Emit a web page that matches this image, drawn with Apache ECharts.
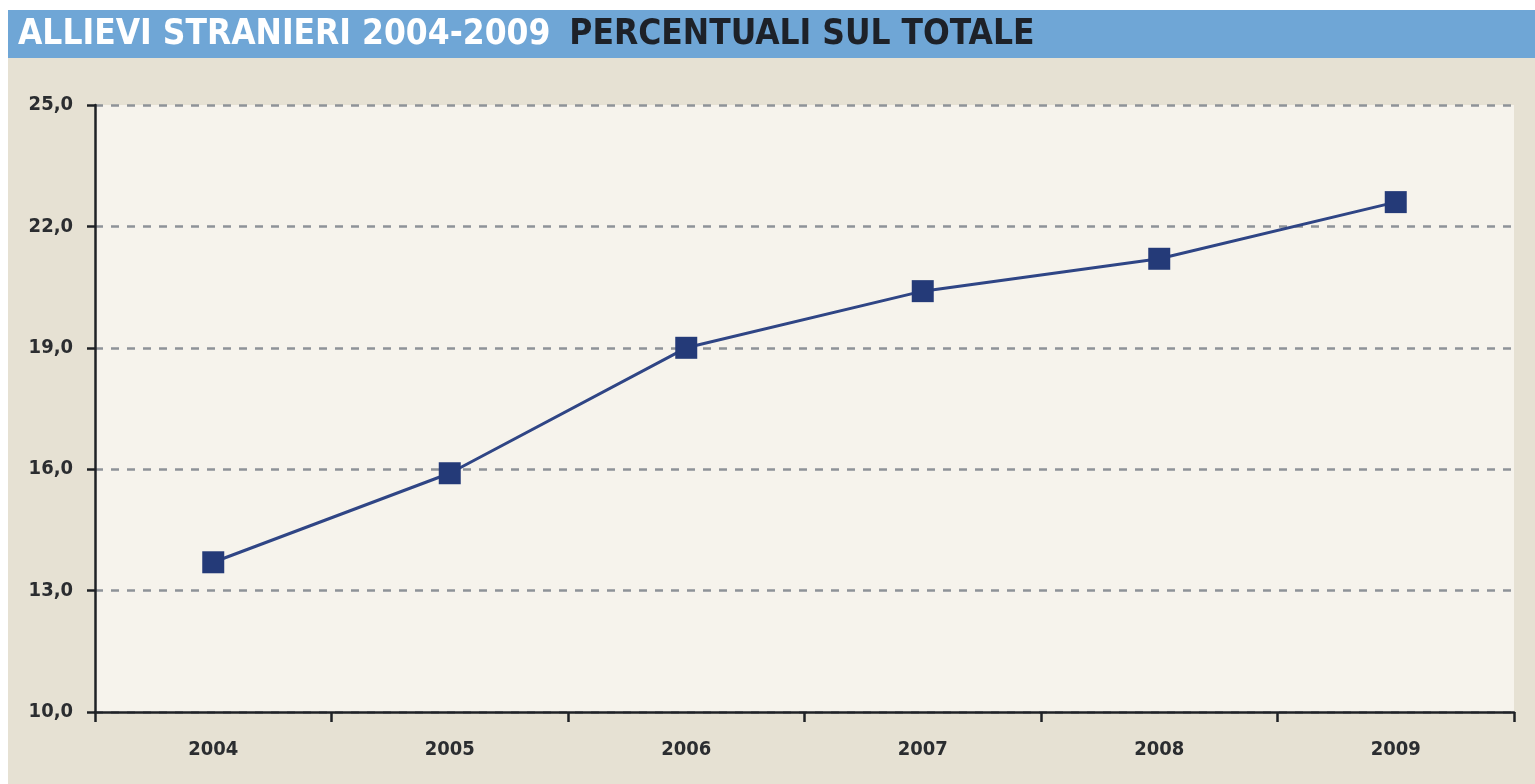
<!DOCTYPE html>
<html>
<head>
<meta charset="utf-8">
<script src="https://cdn.jsdelivr.net/npm/echarts@6/dist/echarts.min.js"></script>
<style>
  html, body { margin: 0; padding: 0; background: #fff; }
  #chart { width: 1535px; height: 784px; }
</style>
</head>
<body>
<div id="chart"></div>
<script>
// Allievi stranieri, % sul totale
const years = ['2004', '2005', '2006', '2007', '2008', '2009'];
const shares = [13.7, 15.9, 19.0, 20.4, 21.2, 22.6];

const FONT = '"DejaVu Sans Condensed", "DejaVu Sans", sans-serif';
const chart = echarts.init(document.getElementById('chart'));

chart.setOption({
  animation: false,
  backgroundColor: '#fff',
  graphic: [
    // beige page background
    { type: 'rect', z: -10, shape: { x: 8, y: 58, width: 1527, height: 726 }, style: { fill: '#e6e1d3' } },
    // blue title bar
    { type: 'rect', z: -10, shape: { x: 8, y: 10, width: 1527, height: 48 }, style: { fill: '#6fa6d6' } },
  ],
  title: {
    left: 13,
    top: 12,
    text: '{a|ALLIEVI STRANIERI 2004-2009}{b|PERCENTUALI SUL TOTALE}',
    textStyle: {
      rich: {
        a: { fontFamily: FONT, fontWeight: 'bold', fontSize: 35, color: '#ffffff' },
        b: { fontFamily: FONT, fontWeight: 'bold', fontSize: 35, color: '#1d2128', padding: [0, 0, 0, 19] },
      },
    },
  },
  grid: {
    left: 95, right: 21, top: 105, bottom: 72,
    show: true, backgroundColor: '#f6f3ec', borderWidth: 0,
  },
  xAxis: {
    type: 'category',
    data: years,
    boundaryGap: true,
    axisLine: { lineStyle: { color: '#1f2226', width: 2.5 } },
    axisTick: { show: true, length: 10, lineStyle: { color: '#1f2226', width: 2.5 } },
    axisLabel: { margin: 28, fontFamily: FONT, fontWeight: 'bold', fontSize: 20, color: '#2b2d30' },
  },
  yAxis: {
    type: 'value',
    min: 10, max: 25, interval: 3,
    axisLine: { show: true, lineStyle: { color: '#1f2226', width: 2.5 } },
    axisTick: { show: true, length: 8, lineStyle: { color: '#1f2226', width: 2.5 } },
    axisLabel: {
      margin: 22, fontFamily: FONT, fontWeight: 'bold', fontSize: 20, color: '#2b2d30',
      formatter: v => v.toFixed(1).replace('.', ','),
    },
    splitLine: { lineStyle: { color: '#8e9398', width: 2.5, type: [8, 8] } },
  },
  series: [{
    type: 'line',
    data: shares,
    symbol: 'rect',
    symbolSize: 22,
    itemStyle: { color: '#243a78' },
    lineStyle: { color: '#2f4585', width: 3 },
  }],
});
</script>
</body>
</html>
